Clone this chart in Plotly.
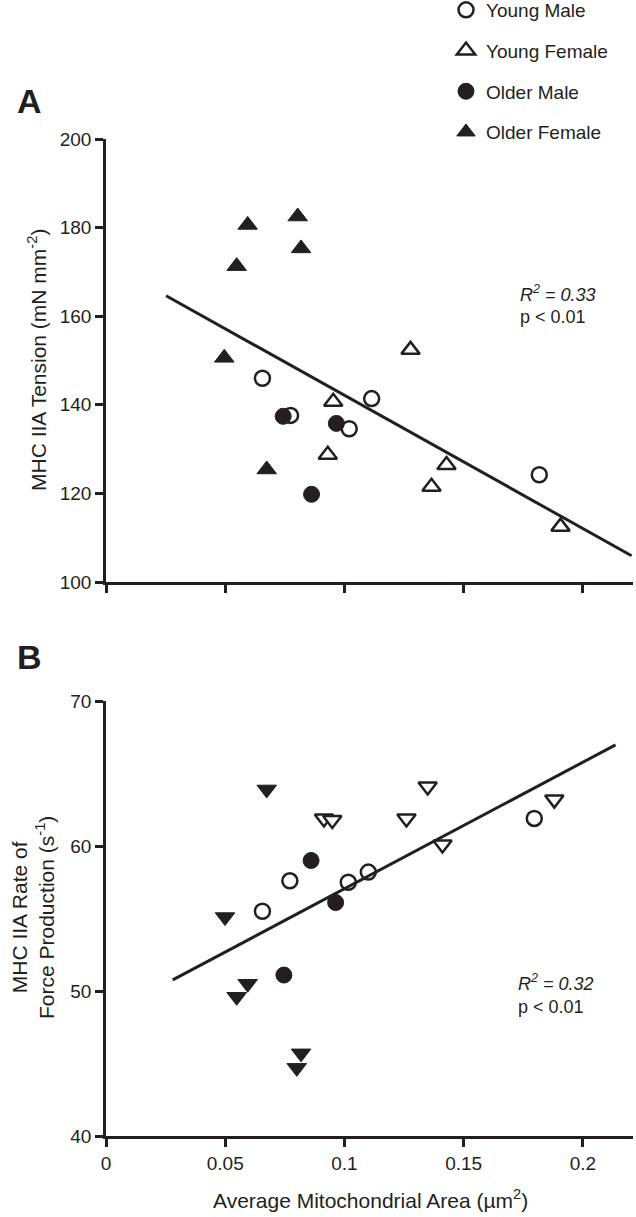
import plotly.graph_objects as go

# ---------------- data ----------------
# Panel A: MHC IIA Tension (mN mm^-2) vs average mitochondrial area (um^2)
a_young_male_x = [0.0656, 0.0774, 0.1020, 0.1114, 0.1817]
a_young_male_y = [146.0, 137.6, 134.6, 141.4, 124.2]
a_young_female_x = [0.0953, 0.0930, 0.1277, 0.1428, 0.1365, 0.1906]
a_young_female_y = [140.7, 128.7, 152.4, 126.4, 121.5, 112.5]
a_older_male_x = [0.0743, 0.0966, 0.0862]
a_older_male_y = [137.4, 135.8, 119.8]
a_older_female_x = [0.0594, 0.0804, 0.0818, 0.0548, 0.0496, 0.0674]
a_older_female_y = [180.6, 182.5, 175.3, 171.3, 150.6, 125.4]
a_fit_x = [0.0252, 0.2204]
a_fit_slope = -300.7
a_fit_intercept = 172.2

# Panel B: MHC IIA rate of force production (s^-1)
b_young_male_x = [0.0656, 0.0771, 0.1016, 0.1100, 0.1796]
b_young_male_y = [55.5, 57.6, 57.5, 58.2, 61.9]
b_young_female_x = [0.0914, 0.0949, 0.1349, 0.1260, 0.1411, 0.1880]
b_young_female_y = [61.9, 61.8, 64.1, 61.9, 60.1, 63.2]
b_older_male_x = [0.0860, 0.0963, 0.0746]
b_older_male_y = [59.0, 56.1, 51.1]
b_older_female_x = [0.0674, 0.0499, 0.0594, 0.0548, 0.0818, 0.0800]
b_older_female_y = [63.9, 55.1, 50.5, 49.6, 45.7, 44.7]
b_fit_x = [0.0280, 0.2137]
b_fit_slope = 87.3
b_fit_intercept = 48.32

x_ticks = [0, 0.05, 0.1, 0.15, 0.2]
x_tick_labels = ["0", "0.05", "0.1", "0.15", "0.2"]
a_y_ticks = [100, 120, 140, 160, 180, 200]
b_y_ticks = [40, 50, 60, 70]

group_names = ["Young Male", "Young Female", "Older Male", "Older Female"]

# ---------------- layout geometry ----------------
W, H = 636, 1217
ML, MR, MT, MB = 106, 3, 139, 81
PW = W - ML - MR
PH = H - MT - MB
A_BOTTOM_PX = 582
B_TOP_PX = 701
domA = [(H - MB - A_BOTTOM_PX) / PH, 1.0]
domB = [0.0, (H - MB - B_TOP_PX) / PH]


def px_x(px):
    return (px - ML) / PW


def px_y(py):
    return (H - MB - py) / PH


INK = "#231f20"
FONT = "Liberation Sans, Arial, sans-serif"
open_marker = dict(color="white", line=dict(color=INK, width=2.5))
filled_marker = dict(color=INK, line=dict(color=INK, width=1))

fig = go.Figure()

styles = [
    ("circle", open_marker, 15),
    ("triangle-up", open_marker, 16),
    ("circle", filled_marker, 16),
    ("triangle-up", filled_marker, 17),
]
a_sets = [
    (a_young_male_x, a_young_male_y),
    (a_young_female_x, a_young_female_y),
    (a_older_male_x, a_older_male_y),
    (a_older_female_x, a_older_female_y),
]
for name, (sym, mk, sz), (xs, ys) in zip(group_names, styles, a_sets):
    fig.add_trace(go.Scatter(
        x=xs, y=ys, mode="markers", name=name, legendgroup=name,
        marker=dict(symbol=sym, size=sz, **mk),
        xaxis="x", yaxis="y", showlegend=True, cliponaxis=False,
    ))

b_styles = [
    ("circle", open_marker, 15),
    ("triangle-down", open_marker, 16),
    ("circle", filled_marker, 16),
    ("triangle-down", filled_marker, 17),
]
b_sets = [
    (b_young_male_x, b_young_male_y),
    (b_young_female_x, b_young_female_y),
    (b_older_male_x, b_older_male_y),
    (b_older_female_x, b_older_female_y),
]
for name, (sym, mk, sz), (xs, ys) in zip(group_names, b_styles, b_sets):
    fig.add_trace(go.Scatter(
        x=xs, y=ys, mode="markers", name=name, legendgroup=name,
        marker=dict(symbol=sym, size=sz, **mk),
        xaxis="x2", yaxis="y2", showlegend=False, cliponaxis=False,
    ))

# regression lines
fig.add_trace(go.Scatter(
    x=a_fit_x, y=[a_fit_intercept + a_fit_slope * v for v in a_fit_x],
    mode="lines", line=dict(color=INK, width=3), showlegend=False,
    xaxis="x", yaxis="y", hoverinfo="skip"))
fig.add_trace(go.Scatter(
    x=b_fit_x, y=[b_fit_intercept + b_fit_slope * v for v in b_fit_x],
    mode="lines", line=dict(color=INK, width=3), showlegend=False,
    xaxis="x2", yaxis="y2", hoverinfo="skip"))

axis_common = dict(
    showline=True, linecolor=INK, linewidth=2.5, mirror=False,
    ticks="outside", ticklen=8, tickwidth=2.5, tickcolor=INK,
    showgrid=False, zeroline=False, automargin=False,
    tickfont=dict(family=FONT, size=19, color=INK),
)

fig.update_layout(
    width=W, height=H,
    margin=dict(l=ML, r=MR, t=MT, b=MB, autoexpand=False),
    paper_bgcolor="white", plot_bgcolor="white",
    font=dict(family=FONT, color=INK),
    showlegend=True,
    legend=dict(
        x=px_x(446), y=px_y(-9), xanchor="left", yanchor="top",
        font=dict(family=FONT, size=19, color=INK),
        tracegroupgap=13, bgcolor="rgba(0,0,0,0)",
        itemsizing="trace",
    ),
    xaxis=dict(domain=[0, 1], range=[0, 0.221], anchor="y",
               tickvals=x_ticks, showticklabels=False, **axis_common),
    yaxis=dict(domain=domA, range=[100, 200], anchor="x",
               tickvals=a_y_ticks, **axis_common),
    xaxis2=dict(domain=[0, 1], range=[0, 0.221], anchor="y2",
                tickvals=x_ticks, ticktext=x_tick_labels, **axis_common),
    yaxis2=dict(domain=domB, range=[40, 70], anchor="x2",
                tickvals=b_y_ticks, **axis_common),
)

ann = []
# panel letters
ann.append(dict(text="<b>A</b>", x=px_x(29), y=px_y(101), xref="paper", yref="paper",
                showarrow=False, font=dict(family=FONT, size=34, color=INK),
                xanchor="center", yanchor="middle"))
ann.append(dict(text="<b>B</b>", x=px_x(29), y=px_y(657), xref="paper", yref="paper",
                showarrow=False, font=dict(family=FONT, size=34, color=INK),
                xanchor="center", yanchor="middle"))
# y axis titles
ann.append(dict(text="MHC IIA Tension (mN mm<sup>-2</sup>)", x=px_x(37),
                y=px_y(360), xref="paper", yref="paper", textangle=-90,
                showarrow=False, font=dict(family=FONT, size=21, color=INK),
                xanchor="center", yanchor="middle"))
ann.append(dict(text="MHC IIA Rate of<br>Force Production (s<sup>-1</sup>)", x=px_x(33),
                y=px_y(918), xref="paper", yref="paper", textangle=-90,
                showarrow=False, font=dict(family=FONT, size=21, color=INK),
                xanchor="center", yanchor="middle"))
# x axis title
ann.append(dict(text="Average Mitochondrial Area (µm<sup>2</sup>)", x=px_x(370),
                y=px_y(1199), xref="paper", yref="paper",
                showarrow=False, font=dict(family=FONT, size=21, color=INK),
                xanchor="center", yanchor="middle"))
# statistics
ann.append(dict(text="<i>R<sup>2</sup> = 0.33</i>", x=px_x(518), y=px_y(293),
                xref="paper", yref="paper", showarrow=False,
                font=dict(family=FONT, size=18, color=INK),
                xanchor="left", yanchor="middle"))
ann.append(dict(text="p < 0.01", x=px_x(518), y=px_y(317),
                xref="paper", yref="paper", showarrow=False,
                font=dict(family=FONT, size=18, color=INK),
                xanchor="left", yanchor="middle"))
ann.append(dict(text="<i>R<sup>2</sup> = 0.32</i>", x=px_x(516), y=px_y(982),
                xref="paper", yref="paper", showarrow=False,
                font=dict(family=FONT, size=18, color=INK),
                xanchor="left", yanchor="middle"))
ann.append(dict(text="p < 0.01", x=px_x(516), y=px_y(1007),
                xref="paper", yref="paper", showarrow=False,
                font=dict(family=FONT, size=18, color=INK),
                xanchor="left", yanchor="middle"))
fig.update_layout(annotations=ann)

fig.write_html(
    "out.html",
    config={"displayModeBar": False},
    post_script="document.body.style.margin='0';document.body.style.padding='0';",
)
